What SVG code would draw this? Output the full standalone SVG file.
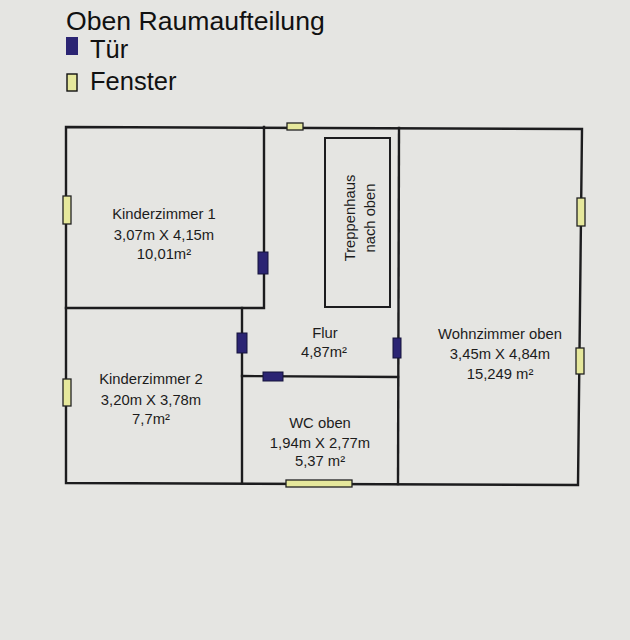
<svg xmlns="http://www.w3.org/2000/svg" width="630" height="640" viewBox="0 0 630 640">
<style>
.wall{fill:none;stroke:#1c1c1e;stroke-width:2.4;stroke-linecap:square}
.door{fill:#2b2473;stroke:#15123a;stroke-width:1}
.win{fill:#e6e89c;stroke:#222;stroke-width:1.3}
.lbl{font-family:"Liberation Sans",Arial,sans-serif;font-size:14.8px;fill:#1c1c1c;text-anchor:middle}
.title{font-family:"Liberation Sans",Arial,sans-serif;fill:#111}
</style>
<rect x="0" y="0" width="630" height="640" fill="#e5e5e2"/>
<g id="legend">
<text class="title" x="66" y="30" font-size="26.6">Oben Raumaufteilung</text>
<rect x="66" y="37" width="12" height="18" fill="#2b2473"/>
<text class="title" x="90" y="58" font-size="25.5">Tür</text>
<rect x="67" y="74" width="10" height="17" fill="#e6e89c" stroke="#111" stroke-width="1.4"/>
<text class="title" x="90" y="90" font-size="25.5">Fenster</text>
</g>
<g id="walls">
<path class="wall" d="M66,127 L582,129 L578,485 L66,483 Z"/>
<path class="wall" d="M264,127 L264,308 L66,308"/>
<path class="wall" d="M242,308 L242,483"/>
<path class="wall" d="M399,128 L398,484"/>
<path class="wall" d="M242,376 L398,377"/>
</g>
<g id="treppenhaus">
<rect x="325" y="138" width="65" height="169" fill="none" stroke="#1c1c1e" stroke-width="2"/>
<text class="lbl" transform="translate(355,218) rotate(-90)">Treppenhaus</text>
<text class="lbl" transform="translate(375,218) rotate(-90)">nach oben</text>
</g>
<g id="kinderzimmer1">
<rect class="win" x="63" y="196" width="8" height="28"/>
<rect class="win" x="287" y="123" width="16" height="7"/>
<rect class="door" x="258" y="252" width="10" height="22"/>
<text class="lbl" x="164" y="219">Kinderzimmer 1</text>
<text class="lbl" x="164" y="240">3,07m X 4,15m</text>
<text class="lbl" x="164" y="259">10,01m²</text>
</g>
<g id="kinderzimmer2">
<rect class="win" x="63" y="379" width="8" height="27"/>
<rect class="door" x="237" y="333" width="10" height="20"/>
<text class="lbl" x="151" y="384">Kinderzimmer 2</text>
<text class="lbl" x="151" y="405">3,20m X 3,78m</text>
<text class="lbl" x="151" y="424">7,7m²</text>
</g>
<g id="flur">
<rect class="door" x="393" y="338" width="8" height="20"/>
<text class="lbl" x="325" y="338">Flur</text>
<text class="lbl" x="324" y="357">4,87m²</text>
</g>
<g id="wc">
<rect class="door" x="263" y="372" width="20" height="9"/>
<rect class="win" x="286" y="480" width="66" height="7"/>
<text class="lbl" x="320" y="428">WC oben</text>
<text class="lbl" x="320" y="448">1,94m X 2,77m</text>
<text class="lbl" x="320" y="466">5,37 m²</text>
</g>
<g id="wohnzimmer">
<rect class="win" x="577" y="198" width="8" height="28"/>
<rect class="win" x="576" y="348" width="8" height="26"/>
<text class="lbl" x="500" y="339">Wohnzimmer oben</text>
<text class="lbl" x="500" y="359">3,45m X 4,84m</text>
<text class="lbl" x="500" y="379">15,249 m²</text>
</g>
</svg>
